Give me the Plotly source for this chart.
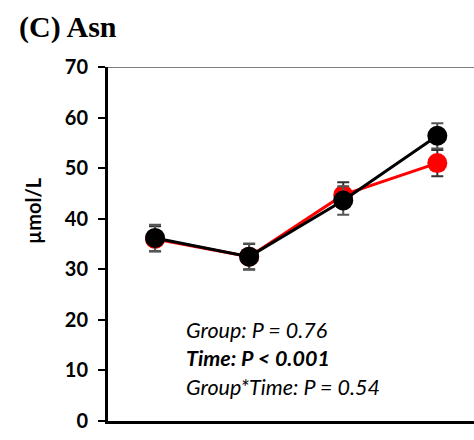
import plotly.graph_objects as go

# Time points (x positions) and group means with SEM
time_points = [0, 1, 2, 3]
group_red_mean = [36.0, 32.5, 44.7, 51.0]
group_red_sem = [2.5, 2.5, 2.5, 2.6]
group_black_mean = [36.2, 32.5, 43.6, 56.4]
group_black_sem = [2.6, 2.6, 2.8, 2.5]

y_ticks = [0, 10, 20, 30, 40, 50, 60, 70]

fig = go.Figure()

fig.add_trace(go.Scatter(
    x=time_points, y=group_red_mean,
    mode="lines+markers",
    line=dict(color="#ff0000", width=3),
    marker=dict(color="#ff0000", size=20),
    error_y=dict(type="data", array=group_red_sem, color="#333333",
                 thickness=2, width=6),
    showlegend=False,
))
fig.add_trace(go.Scatter(
    x=time_points, y=group_black_mean,
    mode="lines+markers",
    line=dict(color="#000000", width=3),
    marker=dict(color="#000000", size=20),
    error_y=dict(type="data", array=group_black_sem, color="#555555",
                 thickness=2, width=6),
    showlegend=False,
))

# thin top frame line
fig.add_shape(type="line", xref="paper", yref="y", x0=0, x1=1, y0=70, y1=70,
              line=dict(color="black", width=1.2))

label_font = "Lato"
tick_font = dict(family=label_font, size=20, color="black")

fig.update_xaxes(range=[-0.5, 3.39], showticklabels=False, ticks="",
                 showline=True, linecolor="black", linewidth=3,
                 showgrid=False, zeroline=False)
fig.update_yaxes(range=[0, 70], tickvals=y_ticks,
                 ticktext=[f"<b>{v}</b>" for v in y_ticks],
                 showline=True, linecolor="black", linewidth=3,
                 ticks="outside", ticklen=7, tickwidth=2, tickcolor="black",
                 ticklabelstandoff=6,
                 tickfont=tick_font, showgrid=False, zeroline=False)

# y-axis title
fig.add_annotation(xref="paper", yref="paper", x=0, y=0, xshift=-75, yshift=(421 - 209) - 2,
                   xanchor="center", yanchor="middle", showarrow=False,
                   textangle=-90, text="<b>µmol/L</b>",
                   font=dict(family=label_font, size=20, color="black"))

# panel title
fig.add_annotation(xref="paper", yref="paper", x=0, y=1, xshift=-91, yshift=40,
                   xanchor="left", yanchor="middle", showarrow=False,
                   text="<b>(C) Asn</b>",
                   font=dict(family="Liberation Serif", size=30, color="black"))

stats_font = dict(family=label_font, size=21.5, color="black")
stats_lines = ["<i>Group: P = 0.76</i>",
               "<b><i>Time: P < 0.001</i></b>",
               "<i>Group*Time: P = 0.54</i>"]
stats_y = [18.0, 12.4, 6.8]
for txt, yv in zip(stats_lines, stats_y):
    fig.add_annotation(xref="x", yref="y", x=0.31, y=yv, xanchor="left",
                       yanchor="middle", showarrow=False,
                       text=txt, font=stats_font)

fig.update_layout(
    width=474, height=440,
    margin=dict(l=108, r=0, t=67, b=19),
    plot_bgcolor="white", paper_bgcolor="white",
)

fig.write_html("out.html")
